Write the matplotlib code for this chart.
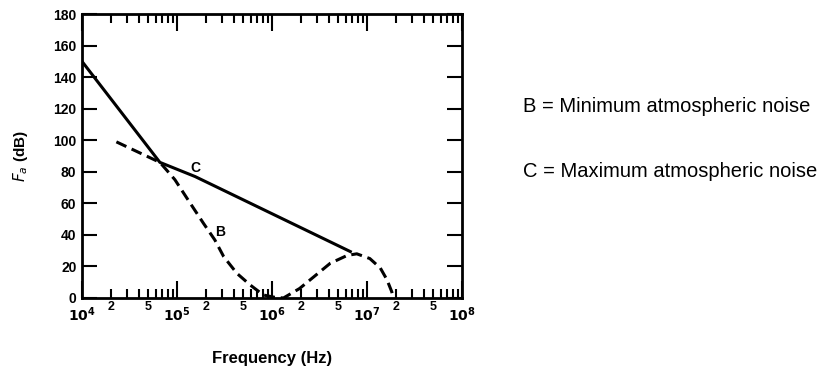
import numpy as np
import matplotlib
matplotlib.use('Agg')
import matplotlib.pyplot as plt

plt.rcParams['font.family'] = ['Liberation Sans', 'DejaVu Sans']

# curve C (maximum atmospheric noise), solid part
c_freq = [1e4, 6.6e4, 1.55e5, 6.9e6]
c_fa = [150, 86, 77, 29]

# curve B (minimum atmospheric noise), dashed
b_freq = [2.3e4, 6.6e4, 7.8e4, 9.5e4, 1.38e5, 1.9e5, 2.5e5, 3.1e5, 4.27e5,
          5.9e5, 8.1e5, 1.05e6, 1.32e6, 1.95e6, 2.7e6, 4.1e6, 6.2e6, 7.8e6,
          1.07e7, 1.38e7, 1.62e7, 1.82e7, 1.86e7]
b_fa = [99, 86, 81, 75, 60, 47.3, 36.8, 26.2, 15.6, 8.2, 1.9, 0.5, 0, 6,
        13, 22, 27, 28, 25, 19, 11.6, 4, 1.5]

yticks = np.arange(0, 181, 20)
decades = [1e4, 1e5, 1e6, 1e7, 1e8]
dec_labels = ['$\\mathbf{10^4}$', '$\\mathbf{10^5}$', '$\\mathbf{10^6}$',
              '$\\mathbf{10^7}$', '$\\mathbf{10^8}$']

fig = plt.figure(figsize=(8.37, 3.72), dpi=100)
ax = fig.add_axes([0.098, 0.199, 0.454, 0.763])

ax.plot(c_freq, c_fa, color='black', lw=2.2, solid_capstyle='butt')
ax.plot(b_freq, b_fa, color='black', lw=2.2, dashes=(3.6, 1.9))

ax.text(1.55e5, 82.5, 'C', fontsize=10, fontweight='bold', ha='center', va='center')
ax.text(2.85e5, 42, 'B', fontsize=10, fontweight='bold', ha='center', va='center')

ax.set_xscale('log')
ax.set_xlim(1e4, 1e8)
ax.set_ylim(0, 180)

ax.set_xticks(decades, dec_labels)
minor = []
minor_lab = []
for d in decades[:-1]:
    for m in range(2, 10):
        minor.append(d * m)
        minor_lab.append(str(m) if m in (2, 5) else '')
ax.set_xticks(minor, minor_lab, minor=True)
ax.set_yticks(yticks)

ax.tick_params(which='both', direction='in', top=True, right=True,
               labelsize=10, width=1.5)
ax.tick_params(axis='x', which='major', length=12, pad=5)
ax.tick_params(axis='x', which='minor', length=6.5, pad=2, labelsize=9)
ax.tick_params(axis='y', which='major', length=10.5, pad=4)
for lab in ax.get_xticklabels(minor=True) + ax.get_yticklabels():
    lab.set_fontweight('bold')
for s in ax.spines.values():
    s.set_linewidth(2.0)

ax.set_ylabel(r'$\mathbf{\it{F_a}}$ (dB)', fontsize=11, fontweight='bold',
              labelpad=17)
ax.set_xlabel('Frequency (Hz)', fontsize=12, fontweight='bold', labelpad=20)

fig.text(0.625, 0.715, 'B = Minimum atmospheric noise', fontsize=14.5, va='center')
fig.text(0.625, 0.54, 'C = Maximum atmospheric noise', fontsize=14.5, va='center')

fig.savefig('out.png', dpi=100)
